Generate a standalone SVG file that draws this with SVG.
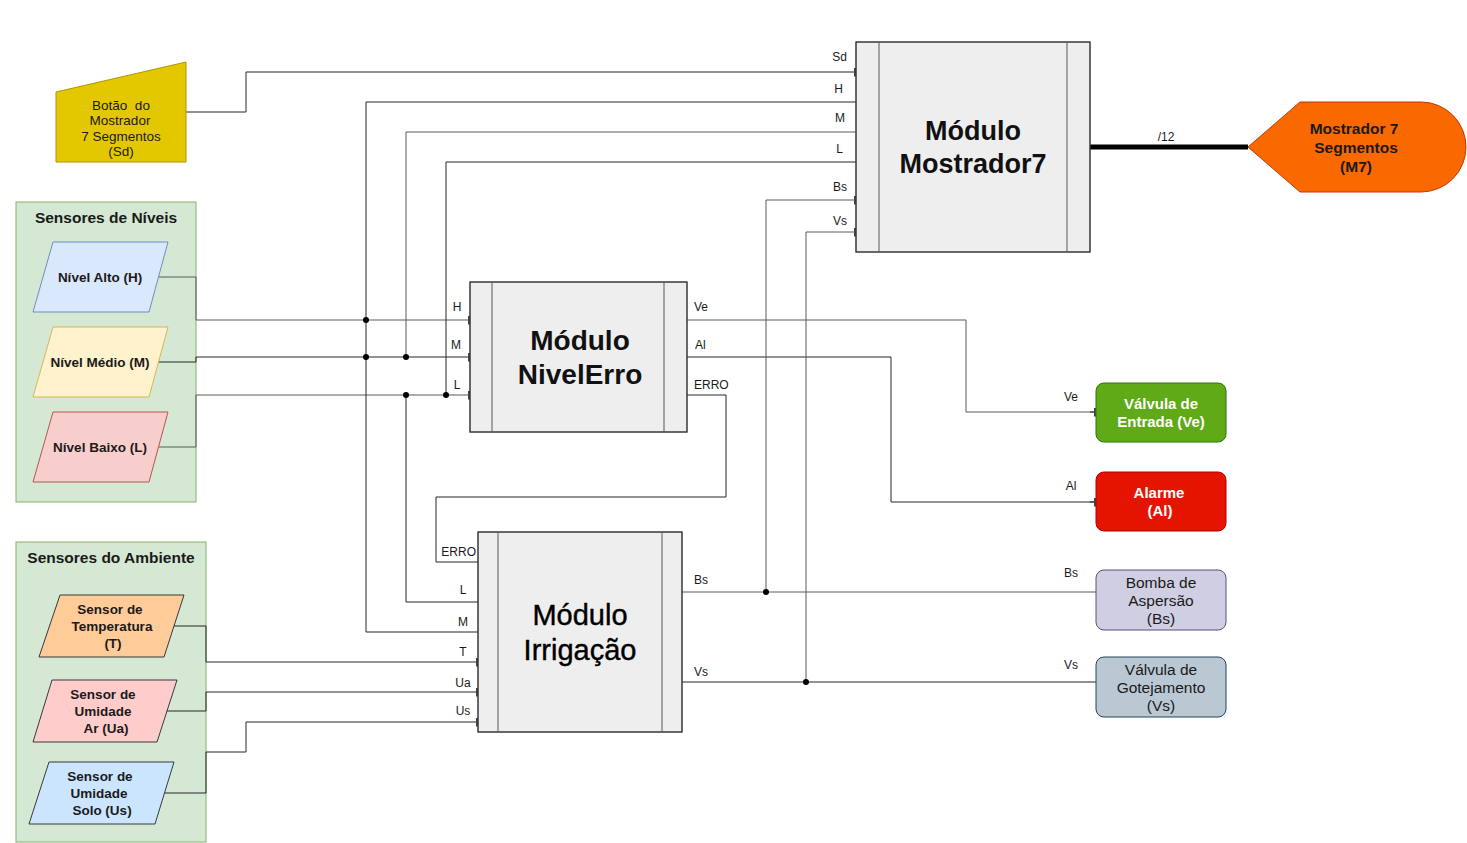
<svg xmlns="http://www.w3.org/2000/svg" width="1467" height="843" viewBox="0 0 1467 843">
<style>
text{font-family:"Liberation Sans",Arial,sans-serif;fill:#1a1a1a}
.lbl{font-size:12px}
.sens{font-size:13.5px;font-weight:bold;text-anchor:middle}
.ttl{font-size:15.5px;font-weight:bold;text-anchor:middle}
.mod{font-size:27px;font-weight:bold;text-anchor:middle;fill:#111}
.out{font-size:15.5px;text-anchor:middle}
.w{fill:#ffffff;font-weight:bold;font-size:15px}
.c{fill:none;stroke:#262626;stroke-width:1}
.g{stroke:#5a5a5a}
.t{marker-end:url(#tick)}
.box{fill:#eeeeee;stroke:#36393d;stroke-width:1}
.div{stroke:#888;stroke-width:1.5}
.cont{fill:#d5e8d4;stroke:#82b366;stroke-width:1}
</style>
<defs>
<marker id="tick" markerWidth="2" markerHeight="9" refX="2" refY="4.5" orient="auto" markerUnits="userSpaceOnUse">
<rect width="2" height="9" fill="#444"/>
</marker>
</defs>
<rect width="1467" height="843" fill="#ffffff"/>

<g id="sensores-niveis">
<rect class="cont" x="16" y="202" width="180" height="300"/>
<text class="ttl" x="106" y="223">Sensores de Níveis</text>
</g>
<g id="sensores-ambiente">
<rect class="cont" x="16" y="542" width="190" height="300"/>
<text class="ttl" x="111" y="563">Sensores do Ambiente</text>
</g>

<g id="connectors">
<polyline class="c t" points="186,112 246,112 246,72 856,72"/>
<polyline class="c g t" points="159,277 196,277 196,320 470,320"/>
<polyline class="c t" points="159,362 196,362 196,357 470,357"/>
<polyline class="c g t" points="159,447 196,447 196,395 470,395"/>
<polyline class="c" points="856,102 366,102 366,632 478,632"/>
<polyline class="c g" points="856,132 406,132 406,357"/>
<polyline class="c" points="406,395 406,602 478,602"/>
<polyline class="c" points="856,162 446,162 446,395"/>
<polyline class="c g" points="687,320 966,320 966,412 1096,412"/>
<line class="c t" x1="1090" y1="412" x2="1096" y2="412"/>
<polyline class="c" points="687,357 891,357 891,502 1096,502"/>
<line class="c t" x1="1090" y1="502" x2="1096" y2="502"/>
<polyline class="c" points="687,395 726,395 726,497 436,497 436,562 478,562"/>
<polyline class="c g" points="682,592 1096,592"/>
<polyline class="c" points="682,682 1096,682"/>
<polyline class="c g t" points="766,592 766,200 856,200"/>
<polyline class="c g t" points="806,682 806,232 856,232"/>
<polyline class="c t" points="174,626 206,626 206,662 478,662"/>
<polyline class="c t" points="167,711 206,711 206,692 478,692"/>
<polyline class="c t" points="164,793 206,793 206,752 246,752 246,722 478,722"/>
<line x1="1090" y1="147" x2="1248" y2="147" stroke="#000" stroke-width="5"/>
<g fill="#000">
<circle cx="366" cy="320" r="3"/>
<circle cx="366" cy="357" r="3"/>
<circle cx="406" cy="357" r="3"/>
<circle cx="406" cy="395" r="3"/>
<circle cx="446" cy="395" r="3"/>
<circle cx="766" cy="592" r="3"/>
<circle cx="806" cy="682" r="3"/>
</g>
<g class="lbl">
<text x="847" y="61" text-anchor="end">Sd</text>
<text x="843" y="93" text-anchor="end">H</text>
<text x="845" y="122" text-anchor="end">M</text>
<text x="843" y="153" text-anchor="end">L</text>
<text x="847" y="191" text-anchor="end">Bs</text>
<text x="847" y="225" text-anchor="end">Vs</text>
<text x="457" y="311" text-anchor="middle">H</text>
<text x="456" y="349" text-anchor="middle">M</text>
<text x="457" y="389" text-anchor="middle">L</text>
<text x="694" y="311">Ve</text>
<text x="695" y="349">Al</text>
<text x="694" y="389">ERRO</text>
<text x="476" y="556" text-anchor="end">ERRO</text>
<text x="463" y="594" text-anchor="middle">L</text>
<text x="463" y="626" text-anchor="middle">M</text>
<text x="463" y="656" text-anchor="middle">T</text>
<text x="463" y="687" text-anchor="middle">Ua</text>
<text x="463" y="715" text-anchor="middle">Us</text>
<text x="694" y="584">Bs</text>
<text x="694" y="676">Vs</text>
<text x="1071" y="401" text-anchor="middle">Ve</text>
<text x="1071" y="490" text-anchor="middle">Al</text>
<text x="1071" y="577" text-anchor="middle">Bs</text>
<text x="1071" y="669" text-anchor="middle">Vs</text>
<text x="1166" y="141" text-anchor="middle">/12</text>
</g>
</g>

<g id="botao">
<polygon points="56,92 186,62 186,162 56,162" fill="#e3c800" stroke="#b09500"/>
<g style="font-size:13.5px;text-anchor:middle">
<text x="121" y="110" xml:space="preserve" style="white-space:pre">Botão  do</text>
<text x="120" y="125">Mostrador</text>
<text x="121" y="141">7 Segmentos</text>
<text x="121" y="156">(Sd)</text>
</g>
</g>

<g id="nivel-alto">
<polygon points="53,242 168,242 149,312 33,312" fill="#dae8fc" stroke="#6c8ebf"/>
<text class="sens" x="100" y="282">Nível Alto (H)</text>
</g>
<g id="nivel-medio">
<polygon points="53,327 168,327 149,397 33,397" fill="#fff2cc" stroke="#d6b656"/>
<text class="sens" x="100" y="367">Nível Médio (M)</text>
</g>
<g id="nivel-baixo">
<polygon points="53,412 168,412 149,482 33,482" fill="#f8cecc" stroke="#b85450"/>
<text class="sens" x="100" y="452">Nível Baixo (L)</text>
</g>

<g id="sensor-temperatura">
<polygon points="60,595 184,595 164,657 39,657" fill="#ffcc99" stroke="#36393d"/>
<text class="sens" x="110" y="614">Sensor de</text>
<text class="sens" x="112" y="631">Temperatura</text>
<text class="sens" x="113" y="648">(T)</text>
</g>
<g id="sensor-umidade-ar">
<polygon points="52,680 177,680 157,742 33,742" fill="#ffcccc" stroke="#36393d"/>
<text class="sens" x="103" y="699">Sensor de</text>
<text class="sens" x="103" y="716">Umidade</text>
<text class="sens" x="106" y="733">Ar (Ua)</text>
</g>
<g id="sensor-umidade-solo">
<polygon points="49,762 174,762 155,824 29,824" fill="#cce5ff" stroke="#36393d"/>
<text class="sens" x="100" y="781">Sensor de</text>
<text class="sens" x="99" y="798">Umidade</text>
<text class="sens" x="102" y="815">Solo (Us)</text>
</g>

<g id="modulo-mostrador7">
<rect class="box" x="856" y="42" width="234" height="210"/>
<line class="div" x1="879" y1="42" x2="879" y2="252"/>
<line class="div" x1="1067" y1="42" x2="1067" y2="252"/>
<rect x="856" y="42" width="234" height="210" fill="none" stroke="#36393d"/>
<text class="mod" x="973" y="140">Módulo</text>
<text class="mod" x="973" y="173">Mostrador7</text>
</g>

<g id="modulo-nivelerro">
<rect class="box" x="470" y="282" width="217" height="150"/>
<line class="div" x1="492" y1="282" x2="492" y2="432"/>
<line class="div" x1="664" y1="282" x2="664" y2="432"/>
<rect x="470" y="282" width="217" height="150" fill="none" stroke="#36393d"/>
<text class="mod" x="580" y="350" style="font-size:28px">Módulo</text>
<text class="mod" x="580" y="384" style="font-size:28px">NivelErro</text>
</g>

<g id="modulo-irrigacao">
<rect class="box" x="478" y="532" width="204" height="200"/>
<line class="div" x1="498" y1="532" x2="498" y2="732"/>
<line class="div" x1="662" y1="532" x2="662" y2="732"/>
<rect x="478" y="532" width="204" height="200" fill="none" stroke="#36393d"/>
<text class="mod" x="580" y="625" style="font-size:29px;font-weight:normal;fill:#000;stroke:#000;stroke-width:0.4">Módulo</text>
<text class="mod" x="580" y="660" style="font-size:29px;font-weight:normal;fill:#000;stroke:#000;stroke-width:0.4">Irrigação</text>
</g>

<g id="mostrador-m7">
<path d="M1248,147 L1300,102 L1421,102 A45,45 0 0 1 1421,192 L1300,192 Z" fill="#fa6800" stroke="#c73500"/>
<g style="font-size:15.5px;font-weight:bold;text-anchor:middle">
<text x="1354" y="134">Mostrador 7</text>
<text x="1356" y="153">Segmentos</text>
<text x="1356" y="172">(M7)</text>
</g>
</g>

<g id="valvula-entrada">
<rect x="1096" y="383" width="130" height="59" rx="8" fill="#60a917" stroke="#2d7600"/>
<text class="out w" x="1161" y="409">Válvula de</text>
<text class="out w" x="1161" y="427">Entrada (Ve)</text>
</g>
<g id="alarme">
<rect x="1096" y="472" width="130" height="59" rx="8" fill="#e51400" stroke="#b20000"/>
<text class="out w" x="1159" y="498">Alarme</text>
<text class="out w" x="1160" y="516">(Al)</text>
</g>
<g id="bomba-aspersao">
<rect x="1096" y="570" width="130" height="60" rx="8" fill="#d0cee2" stroke="#56517e"/>
<text class="out" x="1161" y="588">Bomba de</text>
<text class="out" x="1161" y="606">Aspersão</text>
<text class="out" x="1161" y="624">(Bs)</text>
</g>
<g id="valvula-gotejamento">
<rect x="1096" y="657" width="130" height="60" rx="8" fill="#bac8d3" stroke="#23445d"/>
<text class="out" x="1161" y="675">Válvula de</text>
<text class="out" x="1161" y="693">Gotejamento</text>
<text class="out" x="1161" y="711">(Vs)</text>
</g>
</svg>
